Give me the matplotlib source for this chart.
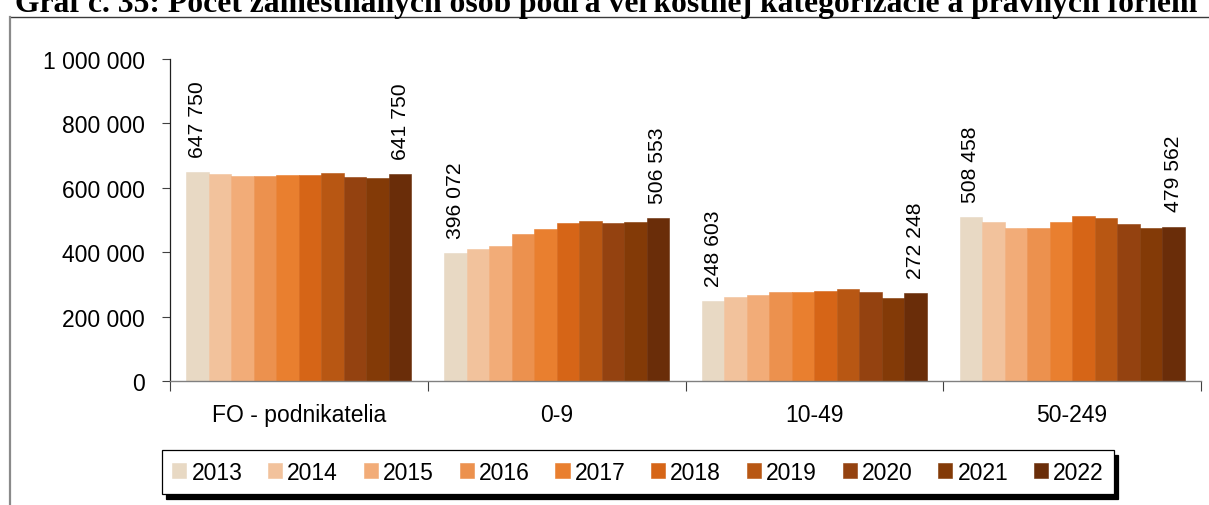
import matplotlib
matplotlib.use("Agg")
import matplotlib.pyplot as plt
import numpy as np
from matplotlib.lines import Line2D
from matplotlib.ticker import FuncFormatter, FixedLocator

# --- data -------------------------------------------------------------------
categories = ["FO - podnikatelia", "0-9", "10-49", "50-249"]
years = ["2013", "2014", "2015", "2016", "2017",
         "2018", "2019", "2020", "2021", "2022"]

fo_podnikatelia = [647750, 644000, 637000, 636500, 639500,
                   640500, 646500, 634000, 631500, 641750]
velkost_0_9 = [396072, 409500, 418800, 456000, 471700,
               489300, 497600, 490300, 493400, 506553]
velkost_10_49 = [248603, 262000, 268300, 276600, 276600,
                 278700, 287000, 276600, 258000, 272248]
velkost_50_249 = [508458, 492900, 474300, 476300, 492900,
                  512600, 506400, 486700, 476300, 479562]

year_colors = ["#E8D9C4", "#F2C29C", "#F2AC78", "#EC914E", "#E97F2F",
               "#D66517", "#B85713", "#944210", "#833A07", "#6A2D09"]

title_text = ("Graf č. 35: Počet zamestnaných osôb podľa veľkostnej "
              "kategorizácie a právnych foriem")

# --- figure -----------------------------------------------------------------
W, H = 1209, 506
fig = plt.figure(figsize=(W / 100, H / 100), dpi=100)
plt.rcParams["font.family"] = ["Liberation Sans", "DejaVu Sans"]

ax_left, ax_right, ax_top, ax_bottom = 170, 1201, 60, 382
ax = fig.add_axes([ax_left / W, (H - ax_bottom) / H,
                   (ax_right - ax_left) / W, (ax_bottom - ax_top) / H])

data = np.array([fo_podnikatelia, velkost_0_9, velkost_10_49, velkost_50_249])
n_cat, n_year = data.shape
x = np.arange(n_cat)
bar_w = 0.0873
offsets = (np.arange(n_year) - (n_year - 1) / 2) * bar_w

for j in range(n_year):
    ax.bar(x + offsets[j], data[:, j], width=bar_w, color=year_colors[j],
           edgecolor=year_colors[j], linewidth=0.4, label=years[j], zorder=2)


def fmt_space(v, pos=None):
    return f"{int(round(v)):,}".replace(",", " ")


# value labels on first and last year
for i in range(n_cat):
    for j in (0, n_year - 1):
        ax.annotate(fmt_space(data[i, j]), (x[i] + offsets[j], data[i, j]),
                    xytext=(0, 11), textcoords="offset points",
                    rotation=90, ha="center", va="bottom", fontsize=15.2,
                    color="black")

ax.set_xlim(-0.5, n_cat - 0.5)
ax.set_ylim(0, 1_000_000)
ax.yaxis.set_major_locator(FixedLocator(np.arange(0, 1_000_001, 200_000)))
ax.yaxis.set_major_formatter(FuncFormatter(fmt_space))
ax.set_xticks(x)
ax.set_xticklabels(categories)
ax.set_xticks(np.arange(-0.5, n_cat, 1.0), minor=True)

ax.tick_params(axis="y", direction="out", length=6, width=0.8,
               color="#404040", pad=12, labelsize=16.5)
ax.tick_params(axis="x", which="major", length=0, pad=16, labelsize=16.5)
ax.tick_params(axis="x", which="minor", direction="out", length=7,
               width=0.8, color="#404040")

for s in ("top", "right"):
    ax.spines[s].set_visible(False)
ax.spines["left"].set_color("#202020")
ax.spines["left"].set_linewidth(0.9)
ax.spines["bottom"].set_color("#808080")
ax.spines["bottom"].set_linewidth(1.0)

# legend with a solid drop shadow
leg = ax.legend(loc="center", bbox_to_anchor=((158 + 1118) / 2 / W, 1 - 473 / H),
                bbox_transform=fig.transFigure, ncol=n_year, frameon=True,
                fancybox=False, fontsize=16.5, handlelength=0.62,
                handleheight=0.6, handletextpad=0.22, columnspacing=1.12,
                borderpad=0.45, borderaxespad=0,
                shadow={"ox": 3, "oy": -3.8, "facecolor": "black",
                        "edgecolor": "black", "alpha": 1})
leg.get_frame().set_edgecolor("black")
leg.get_frame().set_linewidth(0.9)

# outer chart border (top and left edges)
border_y = 1 - 18 / H
fig.add_artist(Line2D([10 / W, 1.0], [border_y, border_y],
                      transform=fig.transFigure, color="#3a3a3a", lw=1.0))
fig.add_artist(Line2D([10 / W, 10 / W], [border_y, 0],
                      transform=fig.transFigure, color="#8a8a8a", lw=1.6))

# heading above the border, fitted to the page width
title = fig.text(15 / W, 1 - 12 / H, title_text, ha="left", va="baseline",
                 fontsize=20, fontweight="bold",
                 family=["Liberation Serif", "DejaVu Serif"])
renderer = fig.canvas.get_renderer()
tw = title.get_window_extent(renderer).width
title.set_fontsize(20 * 1180 / tw)

fig.savefig("out.png", dpi=100)
